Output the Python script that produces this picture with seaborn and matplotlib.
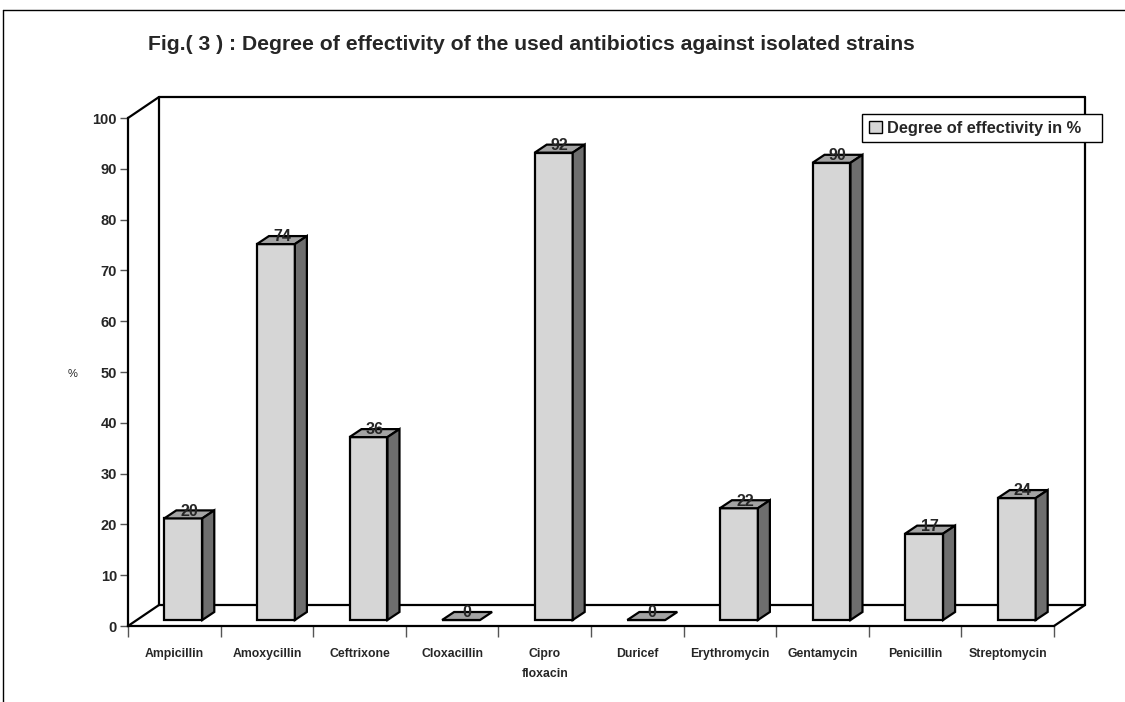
import numpy as np
import matplotlib
matplotlib.use("Agg")
import matplotlib.pyplot as plt
import seaborn as sns
from matplotlib.patches import Polygon, Patch
from matplotlib.lines import Line2D

antibiotics = ["Ampicillin", "Amoxycillin", "Ceftrixone", "Cloxacillin", "Cipro floxacin",
               "Duricef", "Erythromycin", "Gentamycin", "Penicillin", "Streptomycin"]
tick_labels = ["Ampicillin", "Amoxycillin", "Ceftrixone", "Cloxacillin", "Cipro\nfloxacin",
               "Duricef", "Erythromycin", "Gentamycin", "Penicillin", "Streptomycin"]
effectivity = [20, 74, 36, 0, 92, 0, 22, 90, 17, 24]
y_ticks = list(range(0, 101, 10))

sns.set_style("white")
plt.rcParams["font.family"] = ["Liberation Sans", "DejaVu Sans"]

W, H = 1125, 702
fig = plt.figure(figsize=(W / 100, H / 100), dpi=100)
ax = fig.add_axes([128 / W, 76 / H, 926 / W, 508 / H])

front_col = "#d6d6d6"
side_col = "#6e6e6e"
top_col = "#a3a3a3"

bar_w = 0.41
sns.barplot(x=antibiotics, y=effectivity, color=front_col, saturation=1, width=bar_w,
            edgecolor="black", linewidth=1.6, ax=ax, zorder=3)

ax.set_xlim(-0.5, 9.5)
ax.set_ylim(0, 100)

# pixel -> data conversions
px_x = 10 / 926
px_y = 100 / 508
DX, DY = 31 * px_x, 21 * px_y          # full depth of the box
bx, by = 9 * px_x, 6 * px_y            # bar front offset
sx, sy = 12 * px_x, 8 * px_y           # bar depth

# back walls / floor
lw = 1.6
def line(xs, ys):
    ax.add_line(Line2D(xs, ys, color="black", lw=lw, clip_on=False, zorder=1))

line([-0.5 + DX, -0.5 + DX], [DY, 100 + DY])
line([-0.5 + DX, 9.5 + DX], [100 + DY, 100 + DY])
line([9.5 + DX, 9.5 + DX], [DY, 100 + DY])
line([-0.5 + DX, 9.5 + DX], [DY, DY])
line([-0.5, -0.5 + DX], [0, DY])
line([-0.5, -0.5 + DX], [100, 100 + DY])
line([9.5, 9.5 + DX], [0, DY])

# make bars look 3d
for p, v in zip(ax.patches, effectivity):
    p.set_x(p.get_x() + bx)
    p.set_y(by)
    x0 = p.get_x()
    x1 = x0 + p.get_width()
    y0 = by
    y1 = by + v
    top = Polygon([[x0, y1], [x1, y1], [x1 + sx, y1 + sy], [x0 + sx, y1 + sy]], closed=True,
                  facecolor=top_col, edgecolor="black", lw=1.6, zorder=3, clip_on=False)
    ax.add_patch(top)
    if v > 0:
        side = Polygon([[x1, y0], [x1, y1], [x1 + sx, y1 + sy], [x1 + sx, y0 + sy]], closed=True,
                       facecolor=side_col, edgecolor="black", lw=1.6, zorder=3, clip_on=False)
        ax.add_patch(side)
    ax.text((x0 + x1) / 2 + sx / 2, y1 + sy * 0.9, f"{v}", ha="center", va="center",
            fontsize=11.5, fontweight="bold", zorder=5, clip_on=False)

# axes styling
for s in ["top", "right"]:
    ax.spines[s].set_visible(False)
ax.spines["left"].set_linewidth(lw)
ax.spines["bottom"].set_linewidth(lw)
ax.spines["left"].set_color("black")
ax.spines["bottom"].set_color("black")

ax.set_yticks(y_ticks)
ax.set_yticklabels([str(t) for t in y_ticks], fontsize=10.5, fontweight="bold")
ax.tick_params(axis="y", which="major", length=6, width=1, color="#555555", pad=2, left=True)

ax.set_xticks(range(len(antibiotics)))
ax.set_xticklabels(tick_labels, fontsize=8.8, fontweight="bold", linespacing=1.9)
ax.set_xticks(np.arange(-0.5, 10, 1), minor=True)
ax.tick_params(axis="x", which="major", length=0, pad=16)
ax.tick_params(axis="x", which="minor", length=8, width=1, color="#555555", bottom=True)
ax.set_xlabel("")
ax.set_ylabel("")

fig.text(73 / W, 1 - 374 / H, "%", fontsize=8, ha="center", va="center")

fig.text(531 / W, 1 - 44 / H,
         "Fig.( 3 ) : Degree of effectivity of the used antibiotics against isolated strains",
         fontsize=15.2, fontweight="bold", ha="center", va="center")

# legend
handle = Patch(facecolor=front_col, edgecolor="black", lw=1)
leg = fig.legend([handle], ["Degree of effectivity in %   "], loc="upper left",
                 bbox_to_anchor=(862 / W, 1 - 114 / H), borderaxespad=0, fancybox=False,
                 framealpha=1, edgecolor="black", handlelength=0.8, handleheight=0.8,
                 handletextpad=0.35, borderpad=0.4,
                 prop={"size": 11.8, "weight": "bold"})
leg.get_frame().set_linewidth(1)
leg.set_zorder(10)

# outer frame
fig.add_artist(Line2D([3 / W, 3 / W], [0, 1 - 10 / H], color="black", lw=1, transform=fig.transFigure))
fig.add_artist(Line2D([3 / W, 1], [1 - 10 / H, 1 - 10 / H], color="black", lw=1, transform=fig.transFigure))

fig.savefig("out.png", dpi=100)
